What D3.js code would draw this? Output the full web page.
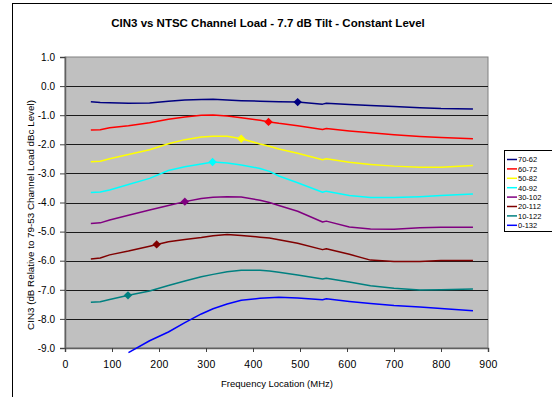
<!DOCTYPE html>
<html>
<head>
<meta charset="utf-8">
<script src="https://cdn.jsdelivr.net/npm/d3@7"></script>
<style>
  body { margin: 0; background: #fff; }
  text { font-family: "Liberation Sans", Arial, sans-serif; fill: #000; }
</style>
</head>
<body>
<div id="chart"></div>
<script>
// frequency locations (MHz) shared by all series
const freqs = [55, 75, 95, 135, 180, 220, 255, 290, 315, 345, 375, 415, 435, 455, 495, 548, 556, 605, 650, 700, 755, 800, 868];

const seriesNames = ["70-62", "60-72", "50-82", "40-92", "30-102", "20-112", "10-122", "0-132"];
const seriesColors = ["#000080", "#ff0000", "#ffff00", "#00ffff", "#800080", "#800000", "#008080", "#0000ff"];

const s70_62  = [-0.54, -0.56, -0.57, -0.59, -0.58, -0.52, -0.48, -0.46, -0.45, -0.48, -0.50, -0.52, -0.53, -0.54, -0.55, -0.62, -0.59, -0.63, -0.67, -0.70, -0.74, -0.77, -0.79];
const s60_72  = [-1.51, -1.50, -1.43, -1.36, -1.26, -1.14, -1.06, -1.00, -0.99, -1.03, -1.09, -1.17, -1.23, -1.28, -1.36, -1.49, -1.46, -1.54, -1.60, -1.67, -1.73, -1.77, -1.81];
const s50_82  = [-2.60, -2.58, -2.50, -2.35, -2.19, -1.98, -1.84, -1.75, -1.72, -1.72, -1.81, -1.99, -2.07, -2.16, -2.31, -2.53, -2.50, -2.62, -2.69, -2.75, -2.79, -2.79, -2.73];
const s40_92  = [-3.66, -3.64, -3.57, -3.38, -3.17, -2.90, -2.77, -2.68, -2.61, -2.64, -2.71, -2.83, -2.93, -3.09, -3.32, -3.65, -3.61, -3.76, -3.83, -3.83, -3.80, -3.76, -3.71];
const s30_102 = [-4.72, -4.70, -4.60, -4.44, -4.26, -4.10, -3.97, -3.86, -3.82, -3.80, -3.81, -3.92, -4.00, -4.10, -4.30, -4.67, -4.64, -4.84, -4.91, -4.92, -4.87, -4.85, -4.85];
const s20_112 = [-5.94, -5.91, -5.80, -5.67, -5.50, -5.35, -5.27, -5.20, -5.14, -5.10, -5.13, -5.19, -5.22, -5.28, -5.40, -5.62, -5.59, -5.78, -5.98, -6.03, -6.03, -5.99, -5.99];
const s10_122 = [-7.43, -7.41, -7.33, -7.19, -7.04, -6.85, -6.70, -6.55, -6.47, -6.38, -6.33, -6.33, -6.35, -6.40, -6.49, -6.63, -6.60, -6.73, -6.86, -6.95, -7.01, -7.00, -6.97];
const s0_132  = [null, null, null, -9.16, -8.75, -8.45, -8.13, -7.83, -7.65, -7.49, -7.36, -7.29, -7.27, -7.26, -7.28, -7.34, -7.31, -7.40, -7.47, -7.54, -7.59, -7.64, -7.72];

const seriesValues = [s70_62, s60_72, s50_82, s40_92, s30_102, s20_112, s10_122, s0_132];

// marked channel on each curve (none visible for 0-132)
const markerFreq = [495, 433, 375, 314, 255, 195, 134, null];
const markerVal  = [-0.55, -1.23, -1.81, -2.61, -3.97, -5.44, -7.19, null];

const xTicks = [0, 100, 200, 300, 400, 500, 600, 700, 800, 900];
const yTicks = [1, 0, -1, -2, -3, -4, -5, -6, -7, -8, -9];

const W = 552, H = 397;
const plot = { left: 65, right: 488, top: 57, bottom: 348 };

const svg = d3.select("#chart").append("svg")
    .attr("width", W)
    .attr("height", H);

// outer chart border
svg.append("rect")
    .attr("x", 12.5).attr("y", 3.5)
    .attr("width", W).attr("height", H)
    .attr("fill", "#fff").attr("stroke", "#000").attr("stroke-width", 1);

const x = d3.scaleLinear().domain([0, 900]).range([plot.left, plot.right]);
const y = d3.scaleLinear().domain([-9, 1]).range([plot.bottom, plot.top]);

// plot area
svg.append("rect")
    .attr("x", plot.left).attr("y", plot.top)
    .attr("width", plot.right - plot.left).attr("height", plot.bottom - plot.top)
    .attr("fill", "#c0c0c0").attr("stroke", "#808080").attr("stroke-width", 1);

// gridlines
svg.append("g")
    .selectAll("line")
    .data(yTicks.filter(d => d < 1 && d > -9))
    .join("line")
    .attr("x1", plot.left).attr("x2", plot.right)
    .attr("y1", d => Math.round(y(d)) + 0.5).attr("y2", d => Math.round(y(d)) + 0.5)
    .attr("stroke", "#1a1a1a").attr("stroke-width", 1);

// axes
const yAxis = d3.axisLeft(y).tickValues(yTicks).tickFormat(d => d.toFixed(1)).tickSize(5).tickPadding(5);
const xAxis = d3.axisBottom(x).tickValues(xTicks).tickFormat(d => String(d)).tickSize(4).tickPadding(9);

const gy = svg.append("g")
    .attr("transform", `translate(${plot.left},0)`)
    .call(yAxis);
const gx = svg.append("g")
    .attr("transform", `translate(0,${plot.bottom})`)
    .call(xAxis);

[gx, gy].forEach(g => {
    g.select(".domain").attr("stroke", "#606060").attr("stroke-width", 1.5);
    g.selectAll(".tick line").attr("stroke", "#404040");
    g.selectAll(".tick text")
        .style("font-family", '"Liberation Sans", Arial, sans-serif')
        .attr("fill", "#000");
});
gy.selectAll(".tick text").style("font-size", "10px");
gx.selectAll(".tick text").style("font-size", "10.5px").style("letter-spacing", "0.4px");

// series lines
const line = d3.line()
    .defined(d => d[1] !== null)
    .x(d => x(d[0]))
    .y(d => y(d[1]));

const gLines = svg.append("g");
seriesValues.forEach((vals, i) => {
    gLines.append("path")
        .datum(freqs.map((f, j) => [f, vals[j]]))
        .attr("d", line)
        .attr("fill", "none")
        .attr("stroke", seriesColors[i])
        .attr("stroke-width", 1.5)
        .attr("stroke-linejoin", "round");
});

// markers (diamonds)
const diamond = d3.symbol().type(d3.symbolDiamond2).size(45);
svg.append("g")
    .selectAll("path")
    .data(markerFreq.map((f, i) => ({ f: f, v: markerVal[i], c: seriesColors[i] })).filter(d => d.f !== null))
    .join("path")
    .attr("d", diamond)
    .attr("transform", d => `translate(${x(d.f)},${y(d.v)})`)
    .attr("fill", d => d.c);

// title
svg.append("text")
    .attr("x", 268).attr("y", 27)
    .attr("text-anchor", "middle")
    .style("font-size", "11.5px").style("font-weight", "bold")
    .text("CIN3 vs NTSC Channel Load - 7.7 dB Tilt - Constant Level");

// axis titles
svg.append("text")
    .attr("x", 277).attr("y", 387)
    .attr("text-anchor", "middle")
    .style("font-size", "9.5px")
    .text("Frequency Location (MHz)");

svg.append("text")
    .attr("transform", `translate(33.5,${215}) rotate(-90)`)
    .attr("text-anchor", "middle")
    .style("font-size", "9.8px")
    .text("CIN3 (dB Relative to 79-53 Channel Load dBc Level)");

// legend
const legend = svg.append("g");
legend.append("rect")
    .attr("x", 504.5).attr("y", 150.5)
    .attr("width", 60).attr("height", 81)
    .attr("fill", "#fff").attr("stroke", "#000").attr("stroke-width", 1);

seriesNames.forEach((name, i) => {
    const ly = 159.5 + i * 9.4;
    legend.append("line")
        .attr("x1", 507).attr("x2", 517)
        .attr("y1", ly).attr("y2", ly)
        .attr("stroke", seriesColors[i]).attr("stroke-width", 1.5);
    legend.append("text")
        .attr("x", 518).attr("y", ly + 2.8)
        .style("font-size", "7.5px")
        .text(name);
});
</script>
</body>
</html>
